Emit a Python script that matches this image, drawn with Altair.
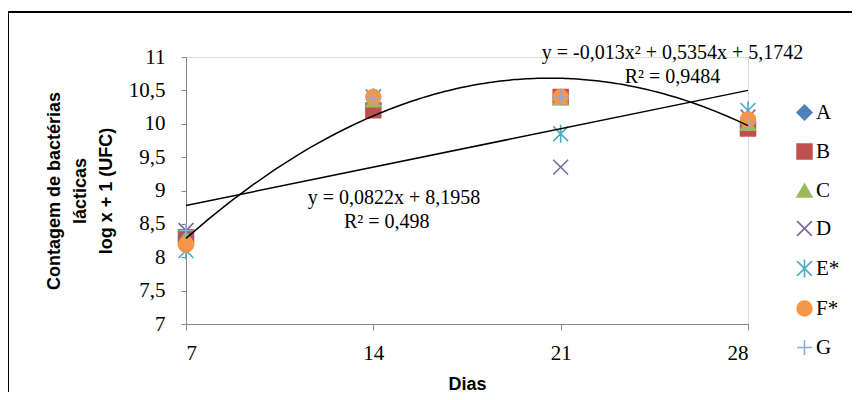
import altair as alt
import pandas as pd

dias = [7, 14, 21, 28]
series = ["A", "B", "C", "D", "E*", "F*", "G"]
valores = {
    "A": [8.30, 10.30, 10.40, 10.00],
    "B": [8.30, 10.20, 10.40, 9.93],
    "C": [8.30, 10.35, 10.38, 10.00],
    "D": [8.40, 10.40, 9.35, 10.10],
    "E*": [8.10, 10.40, 9.85, 10.20],
    "F*": [8.19, 10.40, 10.40, 10.065],
    "G": [8.40, 10.37, 10.40, 10.00],
}
ticks_y = [7, 7.5, 8, 8.5, 9, 9.5, 10, 10.5, 11]
cores = ["#4F81BD", "#C0504D", "#9BBB59", "#8064A2", "#4BACC6", "#F79646", "#8FAADC"]
formas = ["diamond", "square", "triangle-up",
          "M-1,-1L1,1M-1,1L1,-1",
          "M-1,-1L1,1M-1,1L1,-1M0,-1.2L0,1.2",
          "circle",
          "M-1,0L1,0M0,-1L0,1"]
preench = ["#4F81BD", "#C0504D", "#9BBB59", "transparent", "transparent", "#F79646", "transparent"]

anot_texto = ["y = 0,0822x + 8,1958", "R² = 0,498",
              "y = -0,013x² + 0,5354x + 5,1742", "R² = 0,9484"]
anot_dia = [14.77, 14.5, 25.18, 25.18]
anot_valor = [8.89, 8.53, 11.06, 10.70]

rows = []
for s in series:
    for d, v in zip(dias, valores[s]):
        rows.append({"dia": d, "valor": v, "serie": s})
df = pd.DataFrame(rows)
anot = pd.DataFrame({"t": anot_texto, "dia": anot_dia, "valor": anot_valor})

serif = "Liberation Serif"
sans = "Liberation Sans"
fs = 21

xscale = alt.Scale(domain=[7, 28], nice=False, zero=False)
yscale = alt.Scale(domain=[7, 11], nice=False, zero=False)

xaxis = alt.Axis(
    values=dias, title="Dias", titleFont=sans, titleFontSize=18, titleFontWeight="bold",
    titleColor="black", titleY=51, labelOverlap=False,
    labelFont=serif, labelFontSize=fs, labelColor="black", labelPadding=12,
    tickSize=6, domainColor="#868686", tickColor="#868686", grid=False)
yaxis = alt.Axis(
    values=ticks_y, labelOverlap=False,
    labelExpr="replace(toString(datum.value), '.', ',')",
    title=["Contagem de bactérias", "lácticas", "log x + 1 (UFC)"],
    titleFont=sans, titleFontSize=18, titleFontWeight="bold", titleColor="black",
    titleLineHeight=26, titlePadding=13,
    labelFont=serif, labelFontSize=fs, labelColor="black", labelPadding=16,
    tickSize=5, domainColor="#868686", tickColor="#868686", grid=False)

base = alt.Chart(df)

pontos = base.mark_point(strokeWidth=1.6, opacity=1).encode(
    x=alt.X("dia:Q", scale=xscale, axis=xaxis),
    y=alt.Y("valor:Q", scale=yscale, axis=yaxis),
    shape=alt.Shape("serie:N", scale=alt.Scale(domain=series, range=formas),
                    legend=alt.Legend(title=None, orient="none", legendX=608, legendY=45,
                                      labelFont=serif, labelFontSize=fs, labelColor="black",
                                      symbolSize=220, rowPadding=16, labelOffset=1,
                                      symbolStrokeWidth=1.6)),
    stroke=alt.Stroke("serie:N", scale=alt.Scale(domain=series, range=cores), legend=None),
    fill=alt.Fill("serie:N", scale=alt.Scale(domain=series, range=preench), legend=None),
    size=alt.value(220),
)

linear = base.transform_filter(alt.datum.serie == "E*").transform_regression(
    "dia", "valor", method="linear", extent=[7, 28]
).mark_line(color="black", strokeWidth=1.5).encode(
    x=alt.X("dia:Q", scale=xscale, axis=xaxis), y=alt.Y("valor:Q", scale=yscale, axis=yaxis))

poly = base.transform_filter(alt.datum.serie == "F*").transform_regression(
    "dia", "valor", method="poly", order=2, extent=[7, 28]
).mark_line(color="black", strokeWidth=1.5).encode(
    x=alt.X("dia:Q", scale=xscale, axis=xaxis), y=alt.Y("valor:Q", scale=yscale, axis=yaxis))

textos = alt.Chart(anot).mark_text(font=serif, fontSize=20, color="black").encode(
    x=alt.X("dia:Q", scale=xscale, axis=xaxis), y=alt.Y("valor:Q", scale=yscale, axis=yaxis),
    text="t:N")

moldura = alt.Chart(df).mark_rect(fill=None, stroke="black", strokeWidth=1.2).encode(
    x=alt.value(-178), x2=alt.value(673), y=alt.value(-45), y2=alt.value(341))

chart = alt.layer(moldura, pontos, linear, poly, textos).properties(
    width=562, height=267,
    autosize=alt.AutoSizeParams(type="none"),
    padding={"left": 178, "top": 49, "right": 104, "bottom": 68},
).configure_view(stroke=None).configure(background="white").configure_axis(
    labelFont=serif, labelFontSize=fs, titleFont=sans)

chart.save("out.html", embed_options={"renderer": "svg", "actions": False})
